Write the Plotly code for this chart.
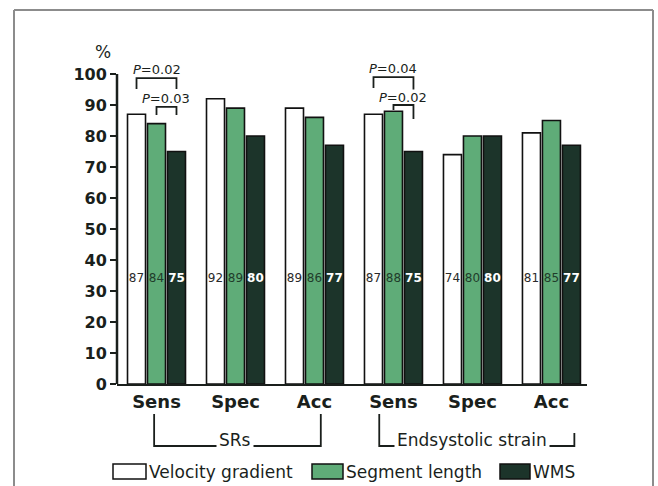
import plotly.graph_objects as go

# ---- data ----
categories = ["Sens", "Spec", "Acc", "Sens", "Spec", "Acc"]
velocity_gradient = [87, 92, 89, 87, 74, 81]
segment_length = [84, 89, 86, 88, 80, 85]
wms = [75, 80, 77, 75, 80, 77]
series_names = ["Velocity gradient", "Segment length", "WMS"]
group_names = ["SRs", "Endsystolic strain"]
group_spans = [(0, 2), (3, 5)]
y_ticks = [0, 10, 20, 30, 40, 50, 60, 70, 80, 90, 100]
# (category index, first series, second series, P value)
comparisons = [(0, 0, 2, "0.02"), (0, 1, 2, "0.03"), (3, 0, 2, "0.04"), (3, 1, 2, "0.02")]

# ---- styling ----
FONT = "DejaVu Sans"
INK = "#1a1f1c"
fills = ["#ffffff", "#5fac78", "#1c342a"]
label_colors = ["#2a2a2a", "#1f3d2b", "#ffffff"]
label_weights = ["normal", "normal", "bold"]
bar_w = 0.228
bar_offsets = [-0.367, -0.114, 0.139]
label_level = 34
# bracket geometry per comparison: (text y, line y, left leg end, right leg end)
bracket_geom = [(101.6, 98.7, 95.2, 95.2), (92.0, 89.4, 86.8, 86.8),
                (101.9, 99.0, 95.5, 95.0), (92.3, 90.0, 88.4, 85.5)]

W, H = 658, 486
ML, MR, MT, MB = 117, 71, 43, 102
PW, PH = W - ML - MR, H - MT - MB


def px_x(p):
    return (p - ML) / PW


def px_y(p):
    return (H - MB - p) / PH


series = [velocity_gradient, segment_length, wms]
xs = list(range(len(categories)))

fig = go.Figure()
for name, vals, fill, off in zip(series_names, series, fills, bar_offsets):
    fig.add_trace(go.Bar(
        x=xs, y=vals, name=name, width=bar_w, offset=off,
        marker=dict(color=fill, line=dict(color="#111111", width=1.6)),
        showlegend=False, hoverinfo="x+y",
    ))

# value labels inside the bars
for vals, off, col, wt in zip(series, bar_offsets, label_colors, label_weights):
    fig.add_trace(go.Scatter(
        x=[x + off + bar_w / 2 for x in xs], y=[label_level] * len(xs),
        mode="text", text=[str(v) for v in vals],
        textfont=dict(family=FONT, size=12, color=col, weight=wt),
        showlegend=False, hoverinfo="skip",
    ))

shapes = []
annotations = []

# y axis line stops at 100
shapes.append(dict(type="line", xref="paper", yref="y", x0=0, x1=0, y0=0, y1=y_ticks[-1],
                   line=dict(color=INK, width=2.5)))

# significance brackets
for (cat, a, b, p), (ty, ly, la, lb) in zip(comparisons, bracket_geom):
    xa = cat + bar_offsets[a] + bar_w / 2
    xb = cat + bar_offsets[b] + bar_w / 2
    shapes.append(dict(type="path", xref="x", yref="y",
                       path=f"M {xa},{la} L {xa},{ly} L {xb},{ly} L {xb},{lb}",
                       line=dict(color=INK, width=1.8)))
    annotations.append(dict(x=(xa + xb) / 2, y=ty, xref="x", yref="y", showarrow=False,
                            yanchor="middle", text=f"<i>P</i>={p}",
                            font=dict(family=FONT, size=13, color=INK)))

# group brackets below the categories: (left pad, right pad, left leg top, right leg top)
bracket_style = [(-0.03, 0.08, 414, 414), (-0.18, 0.29, 414, 433)]
for (g0, g1), name, (p0, p1, t0, t1) in zip(group_spans, group_names, bracket_style):
    x0, x1 = g0 + p0, g1 + p1
    bot = px_y(446)
    shapes.append(dict(type="path", xref="x", yref="paper",
                       path=f"M {x0},{px_y(t0)} L {x0},{bot} L {x1},{bot} L {x1},{px_y(t1)}",
                       line=dict(color=INK, width=1.8)))
    annotations.append(dict(x=(g0 + g1) / 2, y=px_y(440), xref="x", yref="paper",
                            yanchor="middle", showarrow=False, text=name,
                            bgcolor="white", borderpad=2,
                            font=dict(family=FONT, size=17, color=INK)))

# "%" unit label
annotations.append(dict(x=px_x(103), y=px_y(52), xref="paper", yref="paper", showarrow=False,
                        xanchor="center", yanchor="middle",
                        text="%", font=dict(family=FONT, size=17, color=INK)))

# legend boxes
legend_boxes = [(113, 146), (312, 343), (500, 530)]
for (b0, b1), fill, name in zip(legend_boxes, fills, series_names):
    shapes.append(dict(type="rect", xref="paper", yref="paper",
                       x0=px_x(b0), x1=px_x(b1), y0=px_y(479), y1=px_y(464),
                       fillcolor=fill, line=dict(color="#111111", width=1.5)))
    annotations.append(dict(x=px_x(b1 + 1), y=px_y(471.5), xref="paper", yref="paper",
                            xanchor="left", yanchor="middle", showarrow=False, text=name,
                            font=dict(family=FONT, size=17, color=INK)))

# outer frame
frame = "#8c8c8c"
shapes += [
    dict(type="line", xref="paper", yref="paper", x0=px_x(14), x1=px_x(14), y0=px_y(10), y1=px_y(490),
         line=dict(color=frame, width=2)),
    dict(type="line", xref="paper", yref="paper", x0=px_x(14), x1=px_x(653), y0=px_y(10), y1=px_y(10),
         line=dict(color=frame, width=2)),
    dict(type="line", xref="paper", yref="paper", x0=px_x(653), x1=px_x(653), y0=px_y(10), y1=px_y(490),
         line=dict(color=frame, width=2)),
]

fig.update_layout(
    width=W, height=H,
    margin=dict(l=ML, r=MR, t=MT, b=MB, pad=0),
    paper_bgcolor="white", plot_bgcolor="white",
    barmode="overlay",
    font=dict(family=FONT, color=INK),
    shapes=shapes, annotations=annotations,
    xaxis=dict(range=[-0.5, 5.45], tickmode="array", tickvals=xs, ticktext=categories,
               showline=True, linecolor=INK, linewidth=2, ticks="", showgrid=False,
               zeroline=False, tickfont=dict(family=FONT, size=18, color=INK, weight="bold"),
               fixedrange=True),
    yaxis=dict(range=[0, 110], tickmode="array", tickvals=y_ticks, showline=False,
               ticks="outside", ticklen=6, tickwidth=2, tickcolor=INK, showgrid=False,
               zeroline=False, tickfont=dict(family=FONT, size=16, color=INK, weight="bold"),
               fixedrange=True),
)

fig.write_html("out.html")
